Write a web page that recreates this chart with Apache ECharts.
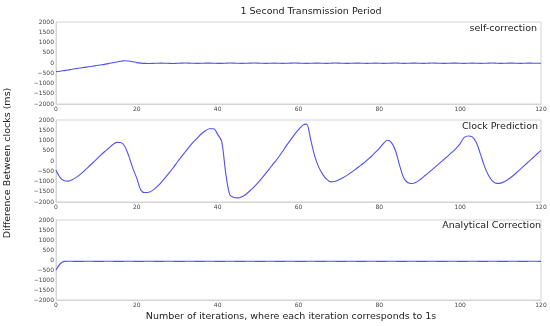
<!DOCTYPE html>
<html><head><meta charset="utf-8">
<script src="https://cdn.jsdelivr.net/npm/echarts@6/dist/echarts.min.js"></script>
<style>html,body{margin:0;padding:0;background:#fff}#c{width:550px;height:326px}</style>
</head><body><div id="c"></div>
<script>
const titleText = "1 Second Transmission Period";
const panelNames = ["self-correction", "Clock Prediction", "Analytical Correction"];
const xLabel = "Number of iterations, where each iteration corresponds to 1s";
const yLabel = "Difference Between clocks (ms)";
const xTicks = [0, 20, 40, 60, 80, 100, 120];
const yTicks = [-2000, -1500, -1000, -500, 0, 500, 1000, 1500, 2000];

const selfCorrection = [
 -420,-400,-370,-340,-305,-275,-245,-215,-185,-155,
 -125,-95,-65,-30,10,50,85,110,100,60,
 20,-5,-20,-25,-20,-10,-5,-10,-20,-25,
 -15,-5,0,-5,-15,-20,-15,-5,-5,-10,
 -20,-20,-10,0,-5,-15,-20,-15,-5,0,
 -5,-15,-20,-10,-5,-10,-20,-15,-5,0,
 -5,-15,-20,-15,-5,-5,-15,-20,-10,0,
 -5,-15,-20,-15,-5,-5,-15,-20,-10,-5,
 -10,-20,-15,-5,0,-10,-20,-15,-5,-5,
 -15,-20,-10,0,-5,-15,-20,-15,-5,-5,
 -15,-20,-10,-5,-10,-20,-15,-5,0,-10,
 -20,-15,-5,-5,-15,-20,-10,-5,-10,-15,-10
];

const clockPrediction = [
 -450,-800,-960,-980,-920,-800,-650,-480,-300,-110,
 80,270,450,620,790,910,900,720,250,-350,
 -850,-1420,-1540,-1520,-1420,-1250,-1050,-820,-580,-330,
 -60,200,450,700,930,1130,1330,1480,1570,1570,
 1300,950,-600,-1650,-1780,-1800,-1740,-1620,-1450,-1260,
 -1050,-820,-580,-330,-80,170,450,750,1020,1290,
 1530,1740,1800,1050,250,-300,-650,-900,-1020,-1000,
 -920,-820,-700,-560,-420,-270,-120,50,220,420,
 620,850,1010,900,500,-200,-800,-1050,-1100,-1050,
 -920,-760,-600,-430,-260,-90,80,250,430,620,
 850,1150,1220,1180,900,350,-250,-700,-980,-1090,
 -1080,-1000,-880,-730,-560,-380,-200,-20,160,340,520
];

const analyticalCorrection = [
 -500,-200,-70,-60,-65,-70,-70,-65,-60,-65,
 -70,-70,-65,-60,-65,-70,-70,-65,-60,-65,
 -70,-70,-65,-60,-65,-70,-70,-65,-60,-65,
 -70,-70,-65,-60,-65,-70,-70,-65,-60,-65,
 -70,-70,-65,-60,-65,-70,-70,-65,-60,-65,
 -70,-70,-65,-60,-65,-70,-70,-65,-60,-65,
 -70,-70,-65,-60,-65,-70,-70,-65,-60,-65,
 -70,-70,-65,-60,-65,-70,-70,-65,-60,-65,
 -70,-70,-65,-60,-65,-70,-70,-65,-60,-65,
 -70,-70,-65,-60,-65,-70,-70,-65,-60,-65,
 -70,-70,-65,-60,-65,-70,-70,-65,-60,-65,
 -70,-70,-65,-60,-65,-70,-70,-65,-60,-65,-70
];

const seriesData = [selfCorrection, clockPrediction, analyticalCorrection];
const FONT = "DejaVu Sans";
const grids = [
  {left: 56, top: 22, width: 485, height: 82},
  {left: 56, top: 120, width: 485, height: 82},
  {left: 56, top: 220, width: 485, height: 80}
];

const chart = echarts.init(document.getElementById('c'), null, {renderer: 'canvas'});
const option = {
  backgroundColor: '#fff',
  animation: false,
  title: {text: titleText, left: 306, top: 2, textAlign: 'center',
          textStyle: {fontFamily: FONT, fontSize: 9.5, fontWeight: 'normal', color: '#222'}},
  grid: grids.map(g => Object.assign({show: true, borderColor: '#d4d4d4', borderWidth: 1, backgroundColor: '#fff'}, g)),
  xAxis: grids.map((g, i) => ({
    type: 'value', gridIndex: i, min: xTicks[0], max: xTicks[xTicks.length-1], interval: 20,
    axisLine: {show: true, onZero: false, lineStyle: {color: '#d4d4d4'}}, axisTick: {show: false},
    splitLine: {show: false},
    axisLabel: {fontFamily: FONT, fontSize: 6, color: '#444', margin: 2, showMinLabel: true, showMaxLabel: true}
  })),
  yAxis: grids.map((g, i) => ({
    type: 'value', gridIndex: i, min: yTicks[0], max: yTicks[yTicks.length-1], interval: 500,
    axisLine: {show: true, onZero: false, lineStyle: {color: '#d4d4d4'}}, axisTick: {show: false},
    splitLine: {show: false},
    axisLabel: {fontFamily: FONT, fontSize: 6, color: '#444', margin: 2,
      formatter: v => String(v).replace('-', '\u2212')}
  })),
  series: seriesData.map((d, i) => ({
    type: 'line', xAxisIndex: i, yAxisIndex: i, smooth: 0.3, symbol: 'none',
    lineStyle: {color: '#5050f5', width: 1.1},
    data: d.map((v, k) => [k, v])
  })),
  graphic: [
    {type: 'text', x: 537, y: 29, style: {text: panelNames[0], font: '9.5px "DejaVu Sans"', fill: '#222', textAlign: 'right', textVerticalAlign: 'middle'}},
    {type: 'text', x: 538, y: 127, style: {text: panelNames[1], font: '9.5px "DejaVu Sans"', fill: '#222', textAlign: 'right', textVerticalAlign: 'middle'}},
    {type: 'text', x: 541, y: 226, style: {text: panelNames[2], font: '9.5px "DejaVu Sans"', fill: '#222', textAlign: 'right', textVerticalAlign: 'middle'}},
    {type: 'text', x: 291, y: 317, style: {text: xLabel, font: '9.5px "DejaVu Sans"', fill: '#222', textAlign: 'center', textVerticalAlign: 'middle'}},
    {type: 'text', x: 8, y: 163, rotation: Math.PI/2, style: {text: yLabel, font: '9.5px "DejaVu Sans"', fill: '#222', textAlign: 'center', textVerticalAlign: 'middle'}}
  ]
};
chart.setOption(option);
</script></body></html>
